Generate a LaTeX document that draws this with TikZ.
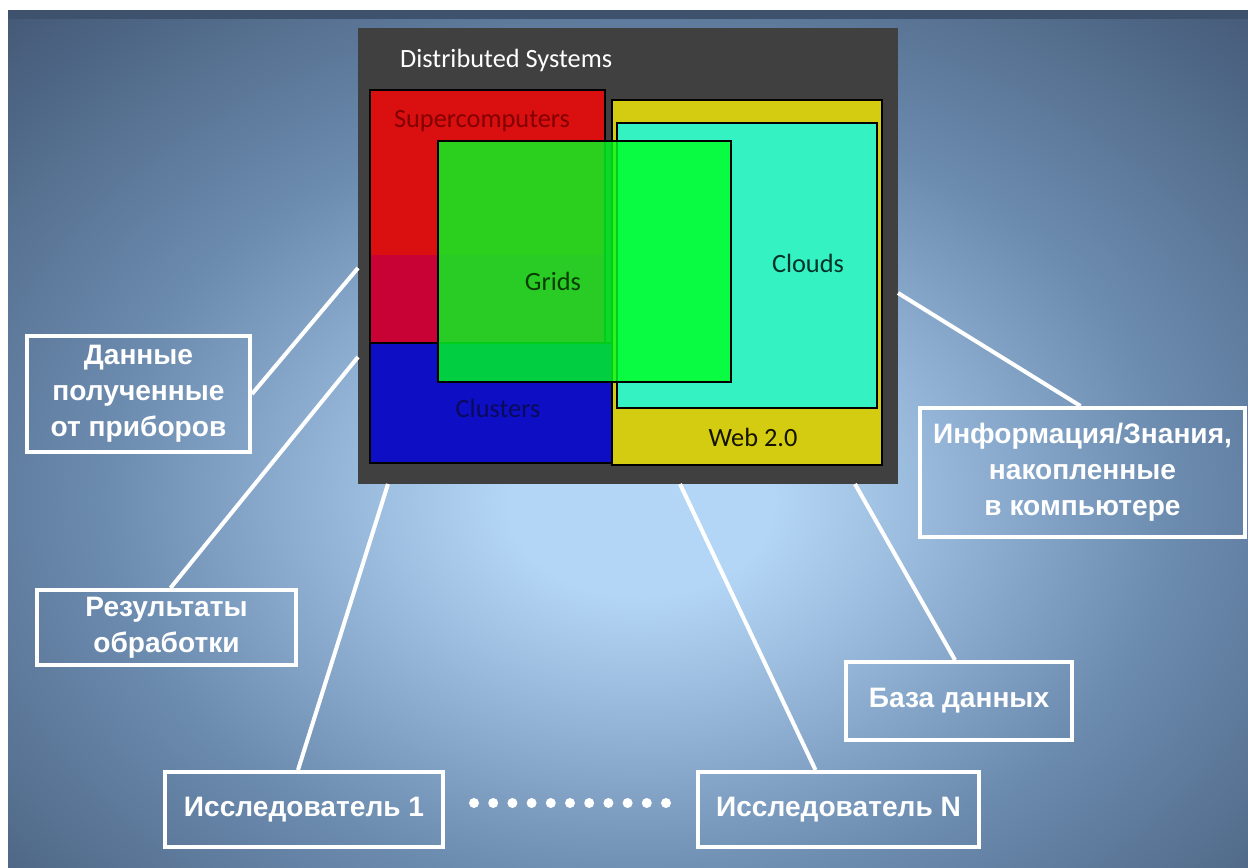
\documentclass[tikz,border=0pt]{standalone}
\usepackage{fontspec}
\setmainfont{Liberation Sans}
\newfontfamily\calibri{Carlito}
\usetikzlibrary{calc}

\definecolor{bgdark}{RGB}{62,82,110}
\definecolor{bgmid}{RGB}{108,140,176}
\definecolor{bglight}{RGB}{180,214,246}
\definecolor{dsgray}{RGB}{64,64,64}
\definecolor{cred}{RGB}{218,16,16}
\definecolor{ccrimson}{RGB}{200,2,52}
\definecolor{cblue}{RGB}{14,14,196}
\definecolor{cyellow}{RGB}{212,204,16}
\definecolor{ccyan}{RGB}{52,242,194}
\definecolor{cgreen}{RGB}{0,255,34}

\pgfdeclareradialshading{bgglow}{\pgfpoint{0bp}{0bp}}{color(0bp)=(bglight); color(5bp)=(bglight); color(20bp)=(bgmid); color(37bp)=(bgdark); color(80bp)=(bgdark)}

\tikzset{
  lab/.style={draw=white,line width=2.3pt,text=white,align=center,inner sep=0pt,
    font=\bfseries\fontsize{16}{20.5}\selectfont},
  link/.style={draw=white,line width=2.3pt},
  sysbox/.style={draw=black,line width=1.1pt},
  systext/.style={font=\calibri\fontsize{15}{18}\selectfont},
}

\begin{document}
\begin{tikzpicture}[x=0.02cm,y=-0.02cm]
  \useasboundingbox (0,0) rectangle (1248,868);
  \fill[white] (0,0) rectangle (1248,868);
  % background glow
  \begin{scope}
    \clip (8,10) rectangle (1248,868);
    \fill[bgdark] (8,10) rectangle (1248,868);
    \shade[shading=bgglow] (-20,20) rectangle (1300,980);
  \end{scope}

  % distributed systems
  \fill[dsgray] (358,28) rectangle (898,484);
  \node[systext,anchor=west,text=white] (dst) at (394,60) {Distributed Systems};
  \filldraw[fill=cblue,sysbox] (370,343) rectangle (612,463);
  \fill[cred] (370,90) rectangle (605,255);
  \fill[ccrimson] (370,255) rectangle (605,343);
  \draw[sysbox] (370,90) rectangle (605,343);
  \filldraw[fill=cyellow,sysbox] (612,100) rectangle (882,465);
  \filldraw[fill=ccyan,sysbox] (617,123) rectangle (877,408);
  \filldraw[fill=cgreen,fill opacity=0.8,sysbox] (438,141) rectangle (731,382);
  \node[systext,text={rgb,255:red,130;green,0;blue,0}] (sup) at (482,121) {Supercomputers};
  \node[systext,text={rgb,255:red,10;green,60;blue,0}] (grd) at (553,281) {Grids};
  \node[systext,text={rgb,255:red,0;green,50;blue,40}] (cld) at (808,263) {Clouds};
  \node[systext,text={rgb,255:red,10;green,10;blue,90}] (cls) at (498,408) {Clusters};
  \node[systext,text={rgb,255:red,20;green,20;blue,0}] (web) at (753,437) {Web 2.0};

  % labels
  \node[lab,minimum width=4.46cm,minimum height=2.32cm] (dat) at (138.5,394) {Данные\\полученные\\от приборов};
  \node[lab,minimum width=5.18cm,minimum height=1.5cm] (res) at (166.5,627.5) {Результаты\\обработки};
  \node[lab,minimum width=5.56cm,minimum height=1.5cm] (rs1) at (304,809.5) {Исследователь 1};
  \node[lab,minimum width=5.62cm,minimum height=1.5cm] (rsn) at (838.5,809.5) {Исследователь N};
  \node[lab,minimum width=4.52cm,minimum height=1.56cm] (bdb) at (959,701) {База данных};
  \node[lab,minimum width=6.5cm,minimum height=2.58cm] (inf) at (1082.5,472.5) {Информация/Знания,\\накопленные\\в компьютере};

  % ends on the box
  \coordinate (e1) at (358,268);
  \coordinate (e2) at (358,357);
  \coordinate (e3) at (388,484);
  \coordinate (e4) at (680,484);
  \coordinate (e5) at (855,484);
  \coordinate (e6) at (898,293);

  \draw[link] (dat.east) -- (e1);
  \draw[link] ($(res.north)+(4,0)$) -- (e2);
  \draw[link] ($(rs1.north)+(-6,0)$) -- (e3);
  \draw[link] ($(rsn.north)+(-23,0)$) -- (e4);
  \draw[link] ($(bdb.north)+(-4,0)$) -- (e5);
  \draw[link] ($(inf.north)+(-2,0)$) -- (e6);

  \foreach \i in {0,...,10} \fill[white] (474+19.2*\i,803) circle (5);
\end{tikzpicture}
\end{document}
